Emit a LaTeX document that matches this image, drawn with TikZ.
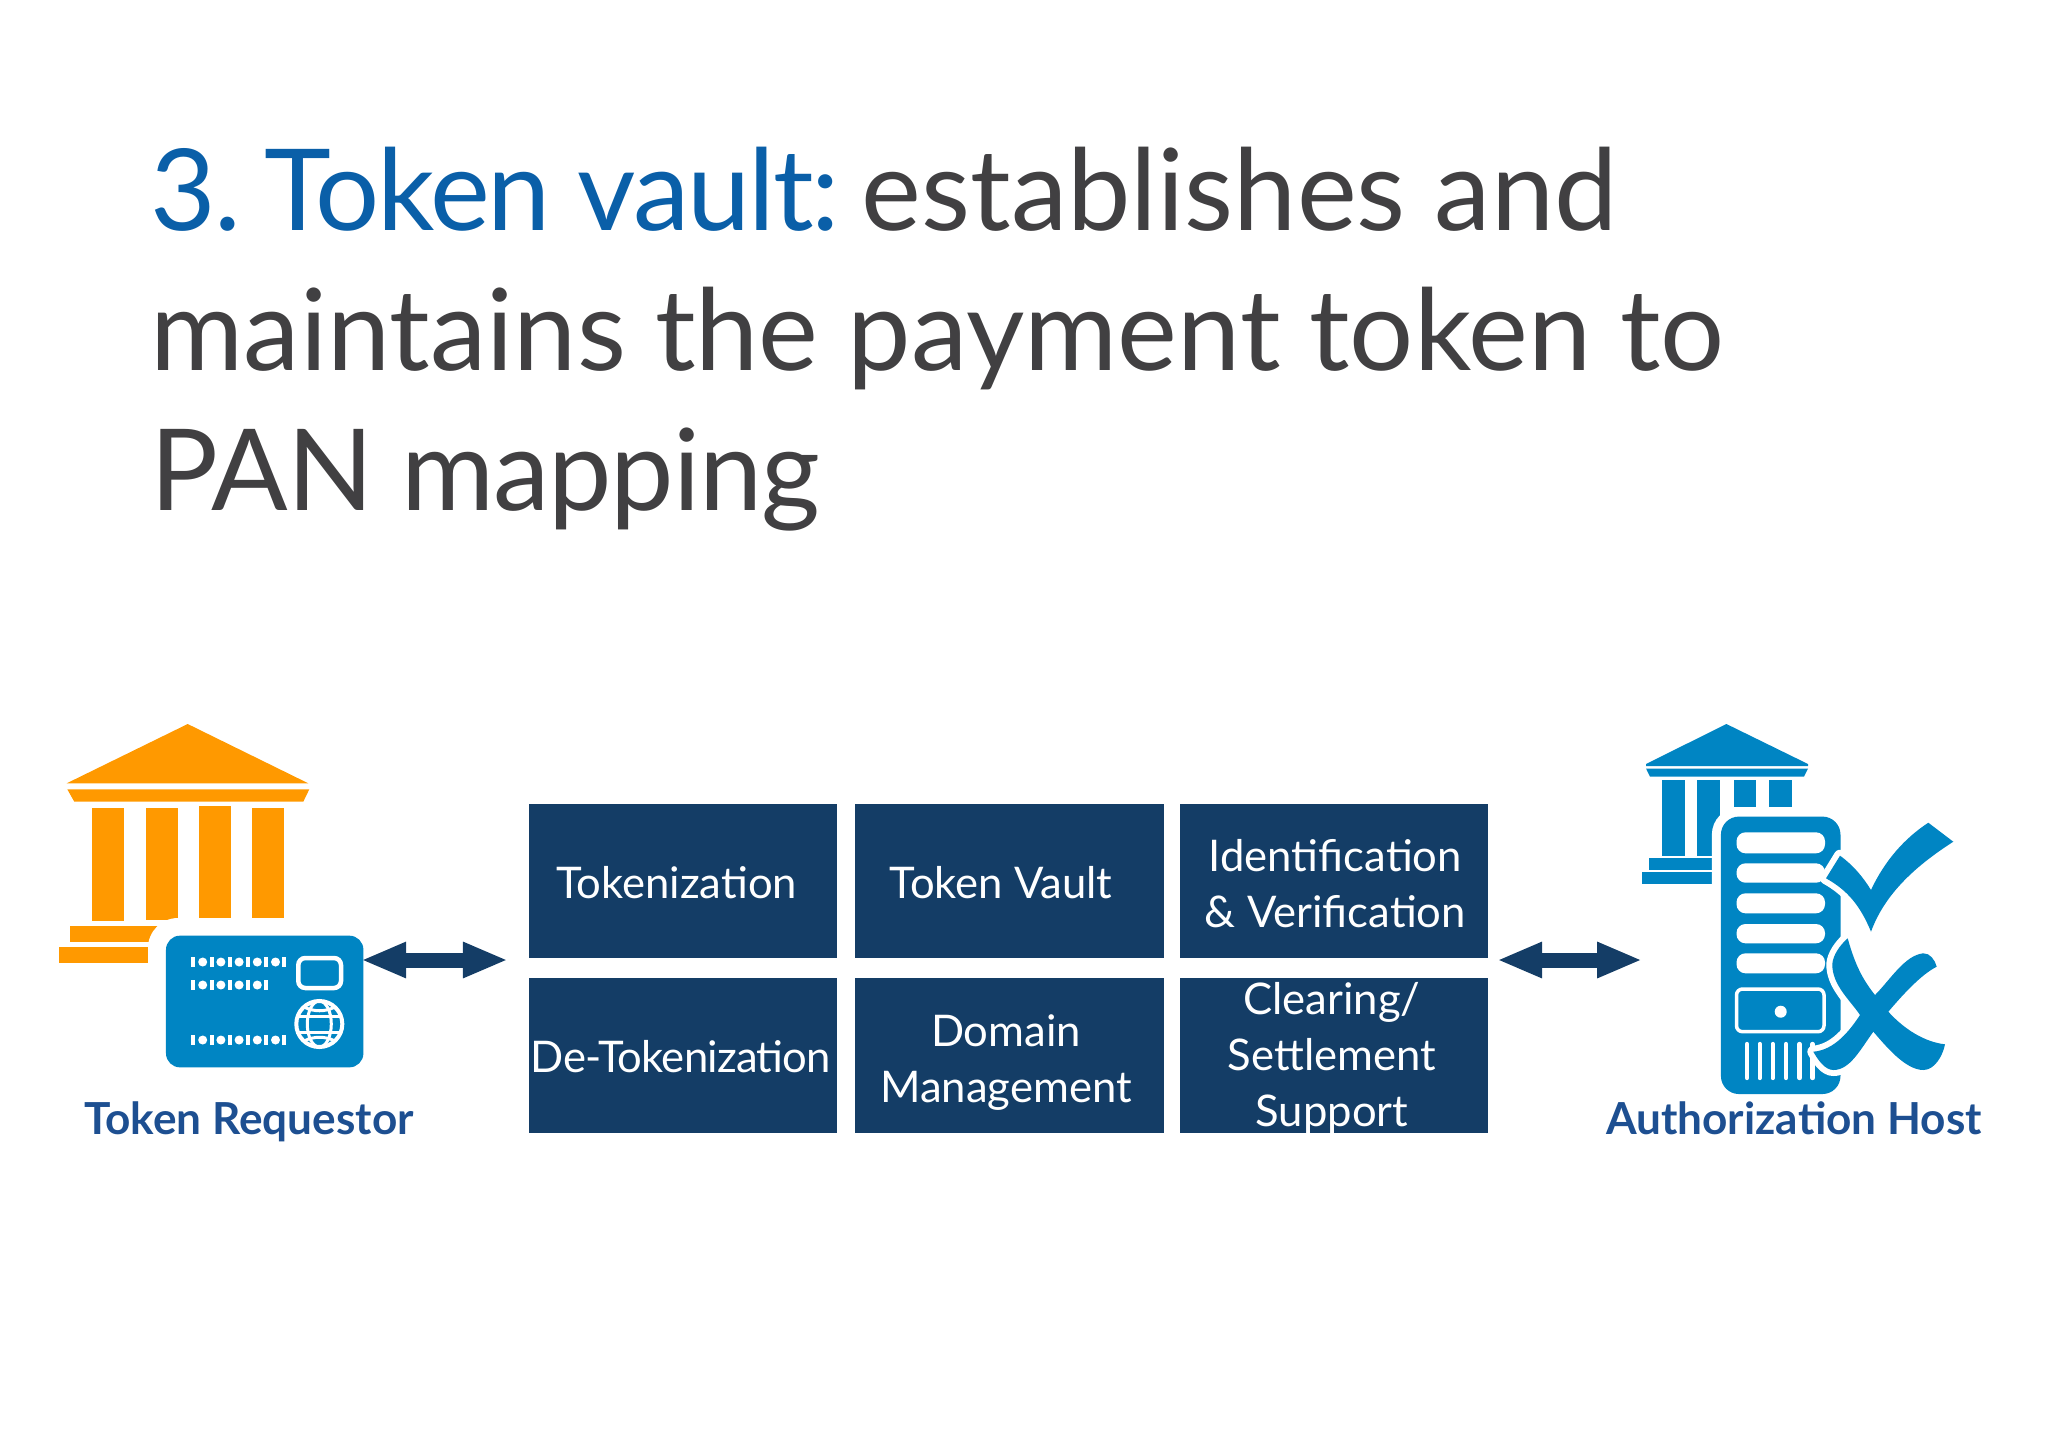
\documentclass[tikz,border=0pt]{standalone}
\usepackage{xcolor}
\usepackage{fontspec}
\setmainfont{Lato}
\usepackage{tikz}
\usetikzlibrary{positioning}
\usetikzlibrary{arrows.meta}
\usetikzlibrary{calc}
\definecolor{vaultblue}{HTML}{0A5FA8}
\definecolor{headgray}{HTML}{414042}
\definecolor{cellblue}{HTML}{143D66}
\definecolor{labelblue}{HTML}{1D4F91}
\definecolor{iconblue}{HTML}{0085C3}
\definecolor{iconorange}{HTML}{FF9900}
\tikzstyle{cellbox}=[rectangle,fill=cellblue,draw=none,minimum width=3.085cm,minimum height=1.545cm,inner sep=0pt]
\tikzstyle{celltext}=[text=white,align=center,inner sep=0pt,font=\fontsize{12.4}{15.9}\selectfont]
\tikzstyle{hostlabel}=[text=labelblue,inner sep=0pt,font=\fontsize{12.55}{15}\selectfont\bfseries]
\tikzstyle{bothway}=[draw=cellblue,line width=0.15cm,{Triangle[length=0.45cm,width=0.33cm]}-{Triangle[length=0.45cm,width=0.33cm]}]
\tikzstyle{markhalo}=[preaction={draw=white,line width=0.12cm,line join=round}]
\begin{document}
\begin{tikzpicture}[x=0.01cm,y=-0.01cm]
 \useasboundingbox (0,0) rectangle (2048,1448);

 %title
 \node[anchor=north west,inner sep=0pt,align=left,text=headgray,font=\fontsize{32.2}{39.8}\selectfont] (title) at (150,146)
   {{\color{vaultblue}\addfontfeature{LetterSpace=-1.8}3.\kern-1pt\ Token vault:}\kern-2pt\ establishes and\\maintains the payment token to\\{\addfontfeature{LetterSpace=-1.1}PAN mapping}};

 %left bank
 \fill[iconorange] (187.7,724) -- (308.3,783.3) -- (66.7,783.3) -- cycle;
 \fill[iconorange] (67.3,789.3) -- (309.3,789.3) -- (303.3,801.7) -- (74.3,801.7) -- cycle;
 \foreach \x/\ya/\yb in {91.7/808.3/920.7, 145.7/808.3/920, 198.7/806/918.3, 251.7/808/918}
    \fill[iconorange] (\x,\ya) rectangle (\x+32,\yb);
 \fill[iconorange] (70.3,926) rectangle (165,941.7);
 \fill[iconorange] (59,947.3) rectangle (160,963.3);

 %card
 \fill[white,rounded corners=0.3cm] (148,918) rectangle (380,1085);
 \node[rectangle,fill=iconblue,minimum width=1.973cm,minimum height=1.316cm,rounded corners=0.14cm,inner sep=0pt] (card) at (264.7,1001.5) {};
 \foreach \y/\n in {962/5, 985/4, 1040/5} {
   \foreach \i in {0,...,\n}
      \fill[white] (191.3+18.2*\i,\y-4.6) rectangle (195.3+18.2*\i,\y+4.6);
   \foreach \i in {1,...,\n}
      \fill[white] (184.5+18.2*\i,\y) circle (0.045cm);
 }
 \draw[white,line width=0.045cm,rounded corners=0.07cm] (298.3,958) rectangle (341,988);
 \draw[white,line width=0.04cm] (319.3,1024) circle (0.23cm);
 \draw[white,line width=0.03cm] (319.3,1024) ellipse (0.12cm and 0.23cm);
 \draw[white,line width=0.03cm] (297.7,1016) -- (340.9,1016);
 \draw[white,line width=0.03cm] (297.7,1032) -- (340.9,1032);
 \draw[white,line width=0.03cm] (304,1007) .. controls (314,1012) and (325,1012) .. (335,1007);
 \draw[white,line width=0.03cm] (304,1041) .. controls (314,1036) and (325,1036) .. (335,1041);

 \node[hostlabel,anchor=base] (requestor) at (249,1134) {Token Requestor};

 %right bank
 \fill[iconblue] (1726.4,724) -- (1808,764) -- (1808,766) -- (1646,766) -- (1646,764) -- cycle;
 \fill[iconblue] (1646,768.5) -- (1808,768.5) -- (1804,776.7) -- (1650,776.7) -- cycle;
 \foreach \x/\yb in {1662/855.7, 1697.4/855.7, 1733.6/806.7, 1768.8/806.7}
    \fill[iconblue] (\x,779.5) rectangle (\x+22.8,\yb);
 \fill[iconblue] (1648.5,857.7) rectangle (1716,870);
 \fill[iconblue] (1642,871.5) rectangle (1716,884);

 %server
 \node[rectangle,fill=iconblue,minimum width=1.195cm,minimum height=2.773cm,rounded corners=0.18cm,inner sep=0pt,
       preaction={draw=white,line width=0.18cm}] (server) at (1780.7,955.3) {};
 \foreach \ya/\yb in {832.3/853.3, 863.3/882.7, 893.3/913.3, 924/943.3, 953.3/973.3}
    \fill[white,rounded corners=0.09cm] (1736.5,\ya) rectangle (1825,\yb);
 \draw[white,line width=0.035cm,rounded corners=0.06cm] (1736.5,989) rectangle (1824,1031.7);
 \fill[white] (1780.7,1011.7) circle (0.06cm);
 \foreach \x in {1747, 1759.7, 1772.8, 1786, 1799.6, 1812.6}
    \draw[white,line width=0.043cm,line cap=round] (\x,1044) -- (\x,1078);

 %check and cross
 \fill[iconblue,markhalo] (1826,878.3) -- (1840,855.7)
    .. controls (1853,865) and (1863,877) .. (1871,890)
    .. controls (1885,860) and (1905,838) .. (1928.3,822.7)
    -- (1953.3,841.7)
    .. controls (1917,865) and (1885,893) .. (1871,931.7)
    .. controls (1860,905) and (1847,890) .. cycle;
 \fill[iconblue,markhalo] (1847.7,938.3)
    .. controls (1855,965) and (1863,980) .. (1875,995)
    .. controls (1890,980) and (1905,955) .. (1923.3,953.3)
    .. controls (1930,953) and (1935,960) .. (1936.7,966.7)
    .. controls (1920,975) and (1900,998) .. (1888.3,1011.7)
    .. controls (1905,1030) and (1925,1042) .. (1945,1044.3)
    .. controls (1943,1055) and (1935,1070) .. (1923.3,1070)
    .. controls (1905,1070) and (1885,1045) .. (1873.3,1031.7)
    .. controls (1860,1050) and (1850,1070) .. (1833.3,1070)
    .. controls (1825,1070) and (1818,1060) .. (1813.3,1051.7)
    .. controls (1835,1050) and (1850,1030) .. (1860,1015)
    .. controls (1850,1000) and (1832,985) .. (1832.3,964)
    .. controls (1833,955) and (1840,945) .. cycle;

 \node[hostlabel,anchor=base] (host) at (1794,1134) {Authorization Host};

 %cells
 \foreach \x/\y/\name in {683/881/tok, 1009.3/881/vault, 1334/881/ident, 683/1055.5/detok, 1009.3/1055.5/domain, 1334/1055.5/clearing}
    \node[cellbox] (\name) at (\x,\y) {};

 \foreach \x/\y/\name/\label in {676.6/883/toktext/Tokenization, 1001/883/vaulttext/Token Vault,
        1335.4/884/identtext/{Identification\\\& Verification}, 681/1057/detoktext/{\addfontfeature{LetterSpace=-1.8}De-Tokenization},
        1006/1063/domaintext/{Domain\\Management}, 1332/1058/clearingtext/{Clearing/\\Settlement\\Support}}
    \node[celltext] (\name) at (\x,\y) {\label};

 %connectors
 \coordinate (gridw) at ($(tok.south west)+(0,1)$);
 \coordinate (gride) at ($(ident.south east)+(0,1)$);
 \draw[bothway,shorten <=-0.03cm,shorten >=0.2cm] (card.east |- gridw) -- (gridw);
 \draw[bothway,shorten <=0.08cm,shorten >=0.78cm] (gride) -- (server.west |- gride);

\end{tikzpicture}
\end{document}
